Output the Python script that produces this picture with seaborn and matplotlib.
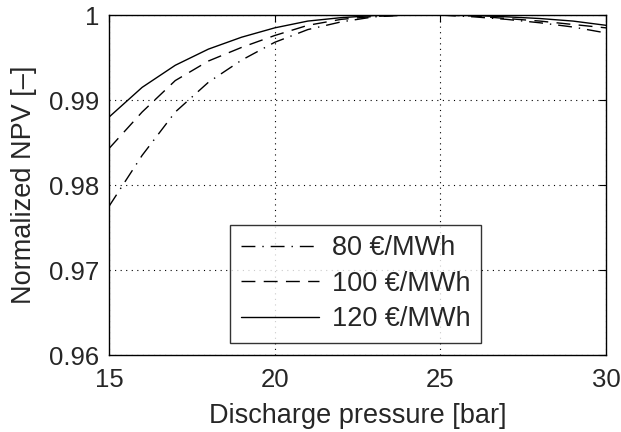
import numpy as np
import pandas as pd
import matplotlib
matplotlib.use("Agg")
import matplotlib.pyplot as plt
import seaborn as sns

# discharge pressure [bar]
pressure = [15, 16, 17, 18, 19, 20, 21, 22, 23, 24, 25, 26, 27, 28, 29, 30]
# normalized NPV
npv_80 = [0.9775, 0.9835, 0.9886, 0.9921, 0.9947, 0.9968, 0.9983, 0.9992, 0.9998, 1.0, 1.0,
          0.9998, 0.9995, 0.9991, 0.9986, 0.9979]
npv_100 = [0.9843, 0.9886, 0.9923, 0.9946, 0.9962, 0.9976, 0.9988, 0.9995, 0.99985, 1.0, 1.0,
           0.9999, 0.9996, 0.9993, 0.9989, 0.9985]
npv_120 = [0.9880, 0.9915, 0.9941, 0.9960, 0.9974, 0.9985, 0.9993, 0.9997, 0.99995, 1.0, 1.0,
           0.99995, 0.9998, 0.9996, 0.9993, 0.9988]
labels = ["80 €/MWh", "100 €/MWh", "120 €/MWh"]
styles = [(0, (10, 5, 1, 5)), (0, (10, 6)), "-"]

sns.set_style("white")
plt.rcParams['font.family'] = ['Liberation Sans', 'DejaVu Sans']

df = pd.DataFrame({
    "p": pressure * 3,
    "npv": npv_80 + npv_100 + npv_120,
    "price": [labels[0]] * 16 + [labels[1]] * 16 + [labels[2]] * 16,
})

fig = plt.figure(figsize=(6.21, 4.32), dpi=100)
ax = fig.add_axes([0.1755, 0.178, 0.8005, 0.787])

for lab, ls in zip(labels, styles):
    sns.lineplot(data=df[df["price"] == lab], x="p", y="npv", color="black",
                 linestyle=ls, linewidth=1.0, label=lab, ax=ax)

ax.set_xlim(15, 30)
ax.set_ylim(0.96, 1.0)
ax.set_xticks([15, 20, 25, 30])
ax.set_yticks([0.96, 0.97, 0.98, 0.99, 1.0])
ax.set_yticklabels(["0.96", "0.97", "0.98", "0.99", "1"])
ax.grid(True, color="black", linestyle=(0, (1, 4)), linewidth=0.8)
ax.tick_params(direction="in", top=True, right=True, labelsize=18.5, length=5, color="black")
ax.tick_params(axis="y", pad=7)
ax.tick_params(axis="x", pad=9)
for s in ax.spines.values():
    s.set_color("black")
    s.set_linewidth(1.0)
ax.set_xlabel("Discharge pressure [bar]", fontsize=19.5, labelpad=8)
ax.set_ylabel("Normalized NPV [–]", fontsize=19.5, labelpad=9)

leg = ax.legend(loc="lower left", bbox_to_anchor=(0.2435, 0.035), borderaxespad=0,
                fontsize=19.5, frameon=True, fancybox=False, edgecolor="black",
                handlelength=2.9, borderpad=0.4, labelspacing=0.35, handletextpad=0.45)
leg.get_frame().set_linewidth(1.0)

fig.savefig("out.png", dpi=100)
